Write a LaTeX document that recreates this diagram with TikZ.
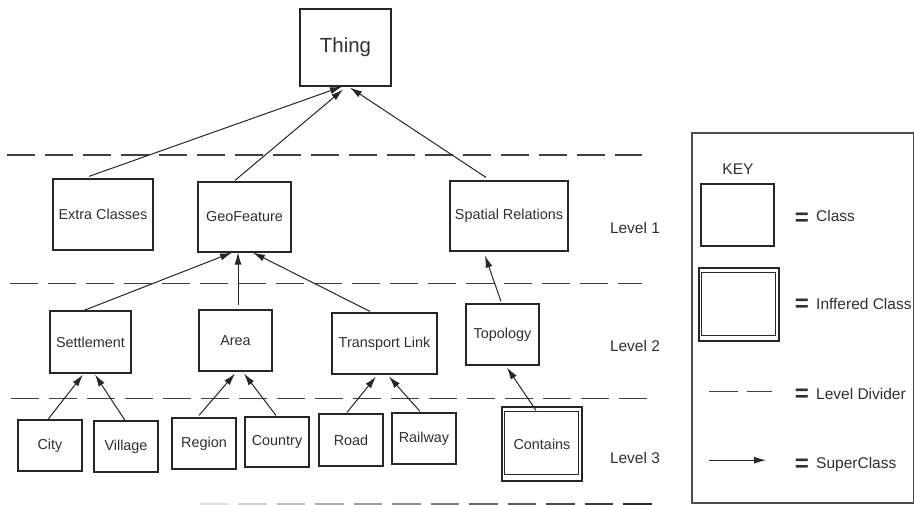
\documentclass[tikz,border=0pt]{standalone}
\usepackage{fontspec}
\setmainfont{Liberation Sans}
\usetikzlibrary{arrows.meta}
\definecolor{ln}{HTML}{262626}
\definecolor{tx}{HTML}{303030}
\tikzset{
 cls/.style={draw=ln, line width=1.2pt, inner sep=0pt, text=tx, font=\fontsize{14.4}{16}\selectfont},
 arr/.style={draw=ln, line width=1pt, -{Latex[length=12pt,width=7pt]}},
 divider/.style={draw=black!75, line width=1.4pt, dash pattern=on 28pt off 10pt},
 lvl/.style={text=tx, font=\fontsize{15.5}{18}\selectfont, inner sep=0pt},
 eqs/.style={text=tx, font=\bfseries\fontsize{24}{28}\selectfont, inner sep=0pt},
 keylbl/.style={text=tx, font=\fontsize{15.5}{18}\selectfont, inner sep=0pt, anchor=west},
}
\begin{document}
\begin{tikzpicture}[x=1pt,y=-1pt]
\useasboundingbox (0,0) rectangle (914,505);
\fill[white] (0,0) rectangle (914,505);

% level dividers
\draw[divider] (7,155.2) -- (642,155.2);
\draw[divider] (10,283.7) -- (642,283.7);
\draw[divider] (11,398.2) -- (651,398.2);
\foreach \k in {0,...,11} {
  \pgfmathsetmacro{\xs}{200+\k*38.48}
  \pgfmathsetmacro{\sh}{12+\k*6.5}
  \draw[draw=black!\sh, line width=1.4pt] (\xs,504) -- (\xs+28.5,504);
}

% class nodes
\node[cls, minimum width=91pt, minimum height=77pt, font=\fontsize{20.4}{22}\selectfont] (thing) at (345.5,47.5) {Thing};
\node[cls, minimum width=100pt, minimum height=71pt] (extra) at (103,214.5) {Extra Classes};
\node[cls, minimum width=93pt, minimum height=70pt] (geo) at (244.5,217) {GeoFeature};
\node[cls, minimum width=118pt, minimum height=70pt] (spatial) at (509,216) {Spatial Relations};
\node[cls, minimum width=81pt, minimum height=62pt] (settle) at (90.5,342) {Settlement};
\node[cls, minimum width=73pt, minimum height=61pt] (area) at (235.5,340.5) {Area};
\node[cls, minimum width=105pt, minimum height=61pt] (trans) at (384.5,343.5) {Transport Link};
\node[cls, minimum width=73pt, minimum height=61pt] (topo) at (502.5,334.5) {Topology};
\node[cls, minimum width=64pt, minimum height=51pt] (city) at (50,445.5) {City};
\node[cls, minimum width=64pt, minimum height=51pt] (village) at (126,446.5) {Village};
\node[cls, minimum width=64pt, minimum height=51pt] (region) at (204,443.5) {Region};
\node[cls, minimum width=64pt, minimum height=50pt] (country) at (277,442) {Country};
\node[cls, minimum width=64pt, minimum height=52pt] (road) at (351,440) {Road};
\node[cls, minimum width=64pt, minimum height=51pt] (railway) at (424,438.5) {Railway};
\node[cls, minimum width=80pt, minimum height=74pt] (cont) at (542,444) {Contains};
\draw[draw=ln, line width=1.2pt] ([shift={(3pt,-5pt)}]cont.north west) rectangle ([shift={(-4pt,7pt)}]cont.south east);

% superclass arrows
\draw[arr] ([xshift=-14pt,yshift=2pt]extra.north) -- ([xshift=-3.5pt]thing.south);
\draw[arr] ([xshift=-9.5pt,yshift=1pt]geo.north) -- ([xshift=-2.5pt,yshift=-3pt]thing.south);
\draw[arr] ([xshift=-23pt,yshift=3pt]spatial.north) -- ([xshift=4.5pt,yshift=-1pt]thing.south);
\draw[arr] ([xshift=-6.5pt]settle.north) -- ([xshift=-12.5pt]geo.south);
\draw[arr] ([xshift=2.5pt,yshift=4pt]area.north) -- ([xshift=-6.5pt]geo.south);
\draw[arr] ([xshift=-14.5pt,yshift=1pt]trans.north) -- ([xshift=8.5pt]geo.south);
\draw[arr] ([xshift=-1.5pt,yshift=2pt]topo.north) -- ([xshift=-24pt,yshift=-4pt]spatial.south);
\draw[arr] ([xshift=-2pt]city.north) -- ([xshift=-7.5pt,yshift=-1pt]settle.south);
\draw[arr] ([xshift=-1pt]village.north) -- ([xshift=4.5pt,yshift=-1pt]settle.south);
\draw[arr] ([xshift=-5pt,yshift=2pt]region.north) -- ([xshift=-0.5pt,yshift=-2pt]area.south);
\draw[arr] ([xshift=-1pt,yshift=1pt]country.north) -- ([xshift=8.5pt,yshift=-2pt]area.south);
\draw[arr] ([xshift=-4pt,yshift=1pt]road.north) -- ([xshift=-8.5pt,yshift=-2pt]trans.south);
\draw[arr] ([xshift=-4pt,yshift=1pt]railway.north) -- ([xshift=4.5pt,yshift=-2pt]trans.south);
\draw[arr] ([xshift=-6pt,yshift=-4pt]cont.north) -- ([xshift=4.5pt,yshift=-2pt]topo.south);

% level labels
\node[lvl] (l1) at (635,228) {Level 1};
\node[lvl] (l2) at (635,346) {Level 2};
\node[lvl] (l3) at (635,458) {Level 3};

% key
\draw[draw=black!70, line width=1.3pt] (692,133) rectangle (913.4,503);
\node[lvl] (keyt) at (738,169) {KEY};
\node[cls, minimum width=73pt, minimum height=62pt] (kclass) at (737.5,215) {};
\node[cls, minimum width=80pt, minimum height=73pt] (kinf) at (739,304.5) {};
\draw[draw=ln, line width=1.2pt] ([shift={(3pt,-5pt)}]kinf.north west) rectangle ([shift={(-4pt,6pt)}]kinf.south east);
\coordinate (da) at (709,391.2);
\coordinate (db) at (772,391.2);
\draw[draw=black!75, line width=1.4pt, dash pattern=on 29pt off 9pt] (da) -- (db);
\coordinate (sa) at (709,460.2);
\coordinate (sb) at (766,460.2);
\draw[arr] (sa) -- (sb);

\node[eqs] (e1) at (802,219) {=};
\node[eqs] (e2) at (802,305) {=};
\node[eqs] (e3) at (802,395.5) {=};
\node[eqs] (e4) at (802,465) {=};
\node[keylbl] (k1) at (816,216) {Class};
\node[keylbl] (k2) at (816,304) {Inffered Class};
\node[keylbl] (k3) at (816,394) {Level Divider};
\node[keylbl] (k4) at (816,464) {SuperClass};
\end{tikzpicture}
\end{document}
